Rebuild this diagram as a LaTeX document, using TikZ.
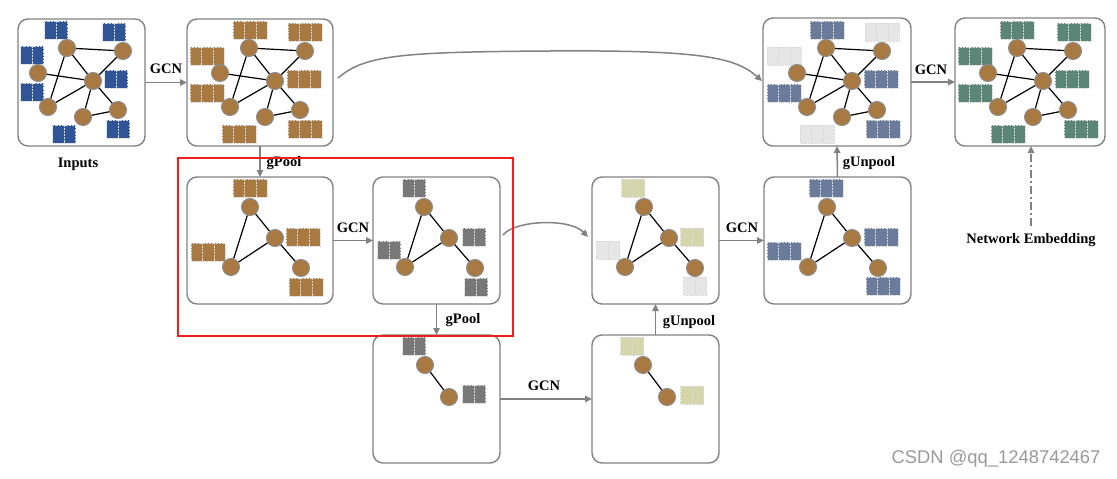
\documentclass[tikz,border=0pt]{standalone}
\usepackage{fontspec}
\setmainfont{Liberation Serif}
\newfontfamily\wmfont{Liberation Sans}
\usetikzlibrary{arrows.meta}
\definecolor{gnode}{HTML}{A97942}
\definecolor{gstroke}{HTML}{8C8C8C}
\definecolor{cblue}{HTML}{2F5597}
\definecolor{cbrown}{HTML}{A97942}
\definecolor{cgray}{HTML}{787878}
\definecolor{colive}{HTML}{D5D6AB}
\definecolor{clight}{HTML}{E6E6E6}
\definecolor{cslate}{HTML}{6A7B9C}
\definecolor{cgreen}{HTML}{5B8577}
\definecolor{aline}{HTML}{828282}
\definecolor{wmark}{HTML}{9A9A9A}
\definecolor{redframe}{HTML}{F21E1E}
\tikzset{
  box/.style={draw=aline, line width=1.4pt, rounded corners=10pt, fill=white, inner sep=0pt, outer sep=0pt},
  gn/.style={circle, fill=gnode, draw=gstroke, line width=1pt, minimum size=17pt, inner sep=0pt},
  edgeline/.style={black, line width=1.2pt},
  arr/.style={draw=aline, line width=1.5pt, -{Triangle[length=7pt,width=6.5pt]}},
  lbl/.style={font=\fontsize{14.5}{17}\selectfont\bfseries, inner sep=0pt},
  cellfill/.style={draw=white!85!black, densely dotted, line width=0.45pt}
}
% block of #3 cells centred at (#1,#2), colour #4
\newcommand\featblk[4]{%
  \foreach \i in {1,...,#3}{%
    \filldraw[fill=#4, cellfill] ({#1-#3*5.75+(\i-1)*11.5},{#2-9}) rectangle ++(11.5,18);
  }%
}
% seven-node graph, prefix #1, x offset #2
\newcommand\GraphSeven[2]{%
  \begin{scope}[shift={(#2,0)}]
    \node[gn] (#1-1) at (67,48) {};
    \node[gn] (#1-2) at (123,51) {};
    \node[gn] (#1-3) at (38,73) {};
    \node[gn] (#1-4) at (93,81) {};
    \node[gn] (#1-5) at (48,107) {};
    \node[gn] (#1-6) at (83,117) {};
    \node[gn] (#1-7) at (118,110) {};
  \end{scope}
  \foreach \a/\b in {1/2,1/4,1/5,2/4,3/4,4/5,4/6,4/7,6/7}
    \draw[edgeline] (#1-\a) -- (#1-\b);
}
% four-node graph
\newcommand\GraphFour[2]{%
  \begin{scope}[shift={(#2,0)}]
    \node[gn] (#1-1) at (250,207) {};
    \node[gn] (#1-2) at (275,238) {};
    \node[gn] (#1-3) at (231,267) {};
    \node[gn] (#1-4) at (301,268) {};
  \end{scope}
  \foreach \a/\b in {1/2,1/3,2/3,2/4}
    \draw[edgeline] (#1-\a) -- (#1-\b);
}
% two-node graph
\newcommand\GraphTwo[2]{%
  \begin{scope}[shift={(#2,0)}]
    \node[gn] (#1-1) at (425,365) {};
    \node[gn] (#1-2) at (449,397) {};
  \end{scope}
  \draw[edgeline] (#1-1) -- (#1-2);
}
\begin{document}
\begin{tikzpicture}[x=1pt,y=-1pt]
\useasboundingbox (0,0) rectangle (1117,479);

% boxes
\node[box, minimum width=127pt, minimum height=127pt] (b1) at (81.5,82.5) {};
\node[box, minimum width=146pt, minimum height=127pt] (b2) at (260,82.5) {};
\node[box, minimum width=146pt, minimum height=127pt] (b3) at (260,240.5) {};
\node[box, minimum width=127pt, minimum height=127pt] (b4) at (436.5,240.5) {};
\node[box, minimum width=127pt, minimum height=128pt] (b5) at (436.5,399) {};
\node[box, minimum width=127pt, minimum height=128pt] (b6) at (655.5,399) {};
\node[box, minimum width=127pt, minimum height=127pt] (b7) at (655.5,240.5) {};
\node[box, minimum width=147pt, minimum height=127pt] (b8) at (837.5,240.5) {};
\node[box, minimum width=148pt, minimum height=128pt] (b9) at (837,82) {};
\node[box, minimum width=150pt, minimum height=128pt] (b10) at (1030,82) {};

% feature blocks
\foreach \x/\y in {56/30,114/32,32/55,116/79,32/92,118/129,64/134} {\featblk{\x}{\y}{2}{cblue}}
\foreach \x/\y in {250/30,305/32,207/56,304/79,207/93,305/129,239/134} {\featblk{\x}{\y}{3}{cbrown}}
\foreach \x/\y in {250/188,303/237,208/252,306/287} {\featblk{\x}{\y}{3}{cbrown}}
\foreach \x/\y in {414/188,474/237,389/250,476/287} {\featblk{\x}{\y}{2}{cgray}}
\foreach \x/\y in {414/346,474/394} {\featblk{\x}{\y}{2}{cgray}}
\foreach \x/\y in {632/346,692/395} {\featblk{\x}{\y}{2}{colive}}
\foreach \x/\y in {633/188,692/237} {\featblk{\x}{\y}{2}{colive}}
\foreach \x/\y in {608/250,695/286} {\featblk{\x}{\y}{2}{clight}}
\foreach \x/\y in {826/188,881/237,784/251,883/286} {\featblk{\x}{\y}{3}{cslate}}
\foreach \x/\y in {827/30,881/79,784/93,883/129} {\featblk{\x}{\y}{3}{cslate}}
\foreach \x/\y in {882/32,784/56,817/134} {\featblk{\x}{\y}{3}{clight}}
\foreach \x/\y in {1017/30,1074/32,975/56,1072/79,975/93,1081/129,1008/134} {\featblk{\x}{\y}{3}{cgreen}}

% graphs
\GraphSeven{ga}{0}
\GraphSeven{gb}{182}
\GraphSeven{gi}{759}
\GraphSeven{gj}{950}
\GraphFour{gc}{0}
\GraphFour{gd}{174}
\GraphFour{gg}{394}
\GraphFour{gh}{577}
\GraphTwo{ge}{0}
\GraphTwo{gf}{218}

% straight arrows
\draw[arr] (b1.east) -- (b2.west);
\draw[arr] (b2.south) -- (b3.north);
\draw[arr] (b3.east) -- (b4.west);
\draw[arr] (b4.south) -- (b5.north);
\draw[arr] (b5.east) -- (b6.west);
\draw[arr] (b6.north) -- (b7.south);
\draw[arr] (b7.east) -- (b8.west);
\draw[arr] (b8.north) -- (b9.south);
\draw[arr] (b9.east) -- (b10.west);

% curved skip arrows
\draw[arr] ([shift={(5,-4.5)}]b2.east) .. controls (365,55) and (400,52) .. (550,51)
  .. controls (700,50) and (735,57) .. ([shift={(-1,-1)}]b9.west);
\draw[arr] ([shift={(3,-5.5)}]b4.east) .. controls (515,220) and (570,218) .. ([shift={(-4,-3.5)}]b7.west);

% labels
\node[lbl] (t1) at (166,69) {GCN};
\node[lbl] (t2) at (284,163) {gPool};
\node[lbl] (t3) at (353,228) {GCN};
\node[lbl] (t4) at (463,320) {gPool};
\node[lbl] (t5) at (544,386) {GCN};
\node[lbl] (t6) at (689,322) {gUnpool};
\node[lbl] (t7) at (742,228) {GCN};
\node[lbl] (t8) at (869,163) {gUnpool};
\node[lbl] (t9) at (931,70) {GCN};
\node[lbl] (inputs) at (78,164) {Inputs};
\node[lbl] (ne) at (1031,240) {Network Embedding};
\coordinate (nes) at ([yshift=7pt]ne.north);
\draw[arr, dash pattern=on 8pt off 3pt on 2pt off 3pt] (nes) -- (nes |- b10.south);

% red frame
\draw[redframe, line width=2.5pt] (178,158) rectangle (513,336);

% watermark
\node[font=\wmfont\fontsize{18.4}{20}\selectfont, text=wmark, inner sep=0pt] (wm) at (996,459) {CSDN @qq\_1248742467};
\end{tikzpicture}
\end{document}
